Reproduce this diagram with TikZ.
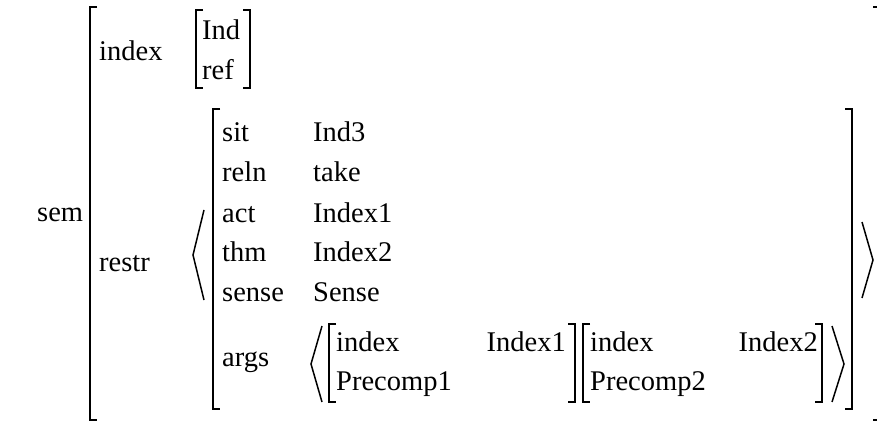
\documentclass[tikz,border=0pt]{standalone}
\usepackage{fontspec}
\setmainfont{Liberation Serif}
\tikzset{
  feat/.style={anchor=base west, inner sep=0pt, font=\fontsize{28.5}{34}\selectfont},
  brk/.style={black, line width=1.8pt},
  ang/.style={black, line width=1.5pt},
}
\newcommand{\brkL}[3]{\draw[brk] (#1+7,#2) -| (#1,#3) -- ++(7,0);}
\newcommand{\brkR}[3]{\draw[brk] (#1-7,#2) -| (#1,#3) -- ++(-7,0);}

\begin{document}
\begin{tikzpicture}[x=1pt,y=-1pt]
\useasboundingbox (0,0) rectangle (877,422);
% outer matrix
\brkL{90}{7}{420}
\draw[brk] (873,7) -- (877,7);
\draw[brk] (873,420) -- (877,420);
\node[feat] (sem) at (37,221) {sem};
%------------------ index
\node[feat] (index) at (99,61) {index};
\brkL{196}{10}{88}
\brkR{250}{10}{88}
\node[feat] (ind) at (202,40) {Ind};
\node[feat] (ref) at (202,80) {ref};
%------------------ restr
\node[feat] (restr) at (99,271) {restr};
\draw[ang] (204,210) -- (193,255) -- (204,300);
\draw[ang] (862,222) -- (873,260) -- (862,298);
\brkL{213}{109}{409}
\brkR{852}{109}{409}
\foreach \lab/\val/\y [count=\i] in {sit/Ind3/142,reln/take/182,act/Index1/222,thm/Index2/261,sense/Sense/301}{
  \node[feat] (lab\i) at (222,\y) {\lab};
  \node[feat] (val\i) at (313,\y) {\val};
}
%------------------ args
\node[feat] (args) at (222,366) {args};
\draw[ang] (322,326) -- (311,364) -- (322,402);
\brkL{329}{324}{402}
\brkR{575}{324}{402}
\node[feat] (idxA) at (336,351) {index};
\node[feat,anchor=base east] (valA) at (566,351) {Index1};
\node[feat] (preA) at (336,390) {Precomp1};
\brkL{583}{324}{402}
\brkR{822}{324}{402}
\node[feat] (idxB) at (590,351) {index};
\node[feat,anchor=base east] (valB) at (818,351) {Index2};
\node[feat] (preB) at (590,390) {Precomp2};
\draw[ang] (832,326) -- (844,364) -- (832,402);
\end{tikzpicture}
\end{document}
